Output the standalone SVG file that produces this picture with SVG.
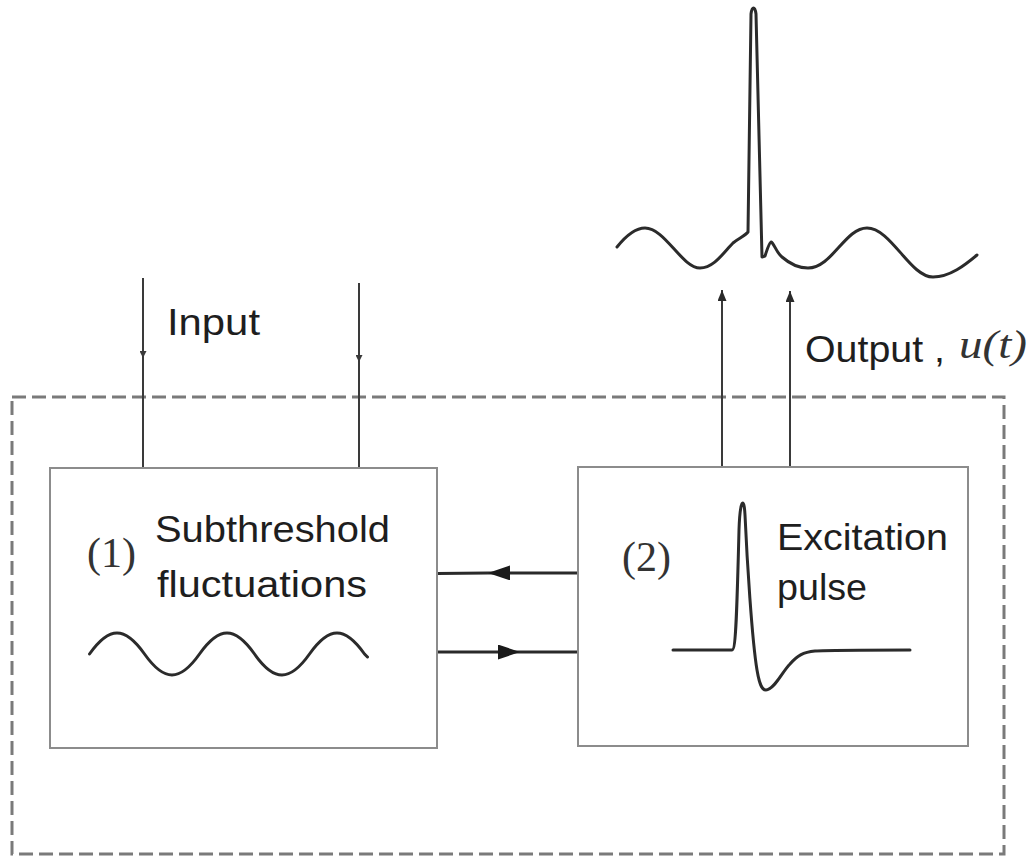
<svg xmlns="http://www.w3.org/2000/svg" width="1036" height="858" viewBox="0 0 1036 858">
<style>
.box{fill:#fff;stroke:#8c8c8c;stroke-width:2}
.frame{fill:none;stroke:#7a7a7a;stroke-width:3;stroke-dasharray:14 6}
.wave{fill:none;stroke:#2b2b2b;stroke-width:3;stroke-linejoin:round;stroke-linecap:round}
.conn{fill:none;stroke:#3a3a3a;stroke-width:2}
.fb{stroke-width:3;stroke:#2a2a2a}
.lbl{font-family:"Liberation Sans",Arial,sans-serif;font-size:37px;fill:#1e1e1e}
.num{font-family:"Liberation Serif","Times New Roman",serif;font-size:42px;fill:#333}
.math{font-family:"Liberation Serif","Times New Roman",serif;font-style:italic;font-size:40px;fill:#333}
</style>
<defs>
<marker id="big" viewBox="0 0 22 15" refX="22" refY="7.5" markerWidth="22" markerHeight="15" markerUnits="userSpaceOnUse" orient="auto"><path d="M0,0 L22,7.5 L0,15 z" fill="#1a1a1a"/></marker>
<marker id="small" viewBox="0 0 11 9" refX="11" refY="4.5" markerWidth="11" markerHeight="9" markerUnits="userSpaceOnUse" orient="auto"><path d="M0,0 L11,4.5 L0,9 z" fill="#2a2a2a"/></marker>
<marker id="tiny" viewBox="0 0 7 7" refX="7" refY="3.5" markerWidth="7" markerHeight="7" markerUnits="userSpaceOnUse" orient="auto"><path d="M0,0 L7,3.5 L0,7 z" fill="#3a3a3a"/></marker>
</defs>
<rect width="1036" height="858" fill="#fff"/>
<g id="system-frame"><rect class="frame" x="12" y="397" width="992" height="457"/></g>
<g id="connectors">
<path class="conn" d="M143 278 L143 358 L143 468" marker-mid="url(#tiny)"/>
<path class="conn" d="M359 283 L359 362 L359 468" marker-mid="url(#tiny)"/>
<path class="conn" d="M722 467 L722 290" marker-end="url(#small)"/>
<path class="conn" d="M790 467 L790 291" marker-end="url(#small)"/>
<path class="conn fb" d="M578 573 L488 573 L437 573.5" marker-mid="url(#big)"/>
<path class="conn fb" d="M437 652 L520 652 L578 652" marker-mid="url(#big)"/>
</g>
<g id="node1">
<rect class="box" x="50" y="468" width="387" height="280"/>
<text class="num" x="87" y="567">(1)</text>
<text class="lbl" x="155" y="542" textLength="235" lengthAdjust="spacingAndGlyphs">Subthreshold</text>
<text class="lbl" x="157" y="597" textLength="210" lengthAdjust="spacingAndGlyphs">fluctuations</text>
<path class="wave" d="M89.5 654 c 19.8 -28 35.2 -28 55 0 s 35.2 28 55 0 s 35.2 -28 55 0 s 35.2 28 55 0 s 35.2 -28 55 0 l 3 3"/>
</g>
<g id="node2">
<rect class="box" x="578" y="467" width="390" height="279"/>
<text class="num" x="622" y="571">(2)</text>
<text class="lbl" x="777" y="550" textLength="171" lengthAdjust="spacingAndGlyphs">Excitation</text>
<text class="lbl" x="777" y="600" textLength="90" lengthAdjust="spacingAndGlyphs">pulse</text>
<path class="wave" d="M673 650 L732 650 C736 650 737 610 739 530 C740 500 744 495 745 515 C747 560 752 640 757 670 C760 688 763 690 766 690 C774 690 782 672 790 664 C797 656 803 652 815 651 C830 650 850 650 910 650"/>
</g>
<g id="input-label"><text class="lbl" x="167" y="335" textLength="93" lengthAdjust="spacingAndGlyphs">Input</text></g>
<g id="output-label">
<text class="lbl" x="805" y="362" textLength="140" lengthAdjust="spacingAndGlyphs">Output ,</text>
<text class="math" x="959" y="358" textLength="68" lengthAdjust="spacingAndGlyphs">u(t)</text>
</g>
<g id="output-signal">
<path class="wave" d="M617 247 C625 237 635 228 645 228 C665 228 682 268 700 268 C714 268 724 252 733 243 C739 238 745 236 748 232 L751 14 C752 6 755 6 756 14 L762 257 L765 256 C767 250 769 243 771 242 C774 243 776 252 782 257 C790 264 798 268 808 268 C832 268 845 228 867 228 C891 228 910 277 933 277 C950 277 965 265 977 255"/>
</g>
</svg>
